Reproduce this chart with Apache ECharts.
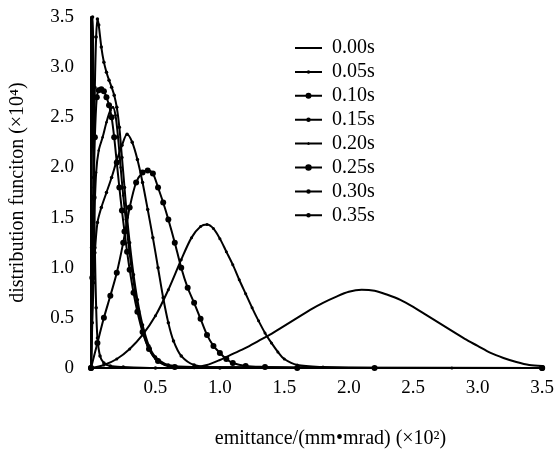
<!DOCTYPE html>
<html>
<head>
<meta charset="utf-8">
<script src="https://cdn.jsdelivr.net/npm/echarts@6/dist/echarts.min.js"></script>
<style>
html,body{margin:0;padding:0;background:#fff;}
#chart{width:557px;height:454px;}
</style>
</head>
<body>
<div id="chart"></div>
<script>
// ---- data (emittance ×10^2 mm·mrad, distribution ×10^4) ----
var seriesNames = ['0.00s','0.05s','0.10s','0.15s','0.20s','0.25s','0.30s','0.35s'];
var xTicks = ['0.5','1.0','1.5','2.0','2.5','3.0','3.5'];
var yTicks = ['0','0.5','1.0','1.5','2.0','2.5','3.0','3.5'];

var t000_x = [0, 0.6, 0.8, 0.9, 1.0, 1.1, 1.2, 1.3, 1.4, 1.5, 1.6, 1.7, 1.8, 1.9, 2.0, 2.1, 2.2, 2.3, 2.4, 2.5, 2.6, 2.7, 2.8, 2.9, 3.0, 3.1, 3.2, 3.3, 3.4, 3.5];
var t000_y = [0, 0, 0.01, 0.03, 0.08, 0.14, 0.2, 0.27, 0.34, 0.42, 0.5, 0.58, 0.65, 0.71, 0.76, 0.78, 0.77, 0.73, 0.68, 0.61, 0.53, 0.45, 0.37, 0.29, 0.22, 0.15, 0.1, 0.06, 0.03, 0.02];

var t005_x = [0, 0.1, 0.2, 0.3, 0.4, 0.5, 0.6, 0.7, 0.78, 0.85, 0.9, 0.95, 1.0, 1.05, 1.1, 1.15, 1.2, 1.25, 1.3, 1.35, 1.4, 1.45, 1.5, 1.6, 1.8, 2.2, 2.8, 3.5];
var t005_y = [0, 0.03, 0.09, 0.19, 0.33, 0.52, 0.78, 1.08, 1.3, 1.41, 1.43, 1.39, 1.29, 1.16, 1.03, 0.88, 0.74, 0.6, 0.47, 0.35, 0.25, 0.16, 0.09, 0.03, 0.01, 0, 0, 0];

var t010_x = [0, 0.05, 0.1, 0.15, 0.2, 0.25, 0.3, 0.35, 0.4, 0.44, 0.48, 0.52, 0.56, 0.6, 0.65, 0.7, 0.75, 0.8, 0.85, 0.9, 0.95, 1.0, 1.05, 1.1, 1.2, 1.35, 1.6, 2.2, 3.5];
var t010_y = [0, 0.25, 0.5, 0.72, 0.95, 1.25, 1.6, 1.85, 1.95, 1.97, 1.94, 1.8, 1.65, 1.48, 1.25, 1.0, 0.8, 0.65, 0.49, 0.33, 0.22, 0.15, 0.09, 0.05, 0.02, 0.01, 0, 0, 0];

var t015_x = [0, 0.01, 0.02, 0.03, 0.05, 0.08, 0.12, 0.16, 0.2, 0.24, 0.28, 0.32, 0.36, 0.4, 0.44, 0.48, 0.52, 0.56, 0.6, 0.64, 0.7, 0.8, 1.0, 3.5];
var t015_y = [0, 0.45, 0.85, 1.15, 1.45, 1.6, 1.75, 1.9, 2.07, 2.22, 2.33, 2.25, 2.08, 1.85, 1.58, 1.3, 1.0, 0.7, 0.45, 0.27, 0.12, 0.03, 0, 0];

var t020_x = [0, 0.01, 0.02, 0.04, 0.06, 0.09, 0.12, 0.15, 0.17, 0.19, 0.21, 0.23, 0.25, 0.27, 0.29, 0.31, 0.34, 0.37, 0.4, 0.44, 0.5, 0.6, 0.8, 3.5];
var t020_y = [0, 0.7, 1.3, 1.95, 2.17, 2.3, 2.45, 2.57, 2.6, 2.52, 2.3, 2.0, 1.72, 1.48, 1.25, 1.04, 0.78, 0.56, 0.38, 0.22, 0.09, 0.02, 0, 0];

var t025_x = [0, 0.01, 0.02, 0.03, 0.045, 0.06, 0.08, 0.1, 0.12, 0.14, 0.16, 0.18, 0.2, 0.22, 0.24, 0.26, 0.28, 0.3, 0.33, 0.36, 0.4, 0.45, 0.52, 0.65, 3.5];
var t025_y = [0, 0.9, 1.7, 2.3, 2.7, 2.77, 2.78, 2.76, 2.7, 2.62, 2.5, 2.3, 2.05, 1.8, 1.57, 1.36, 1.16, 0.98, 0.75, 0.56, 0.36, 0.19, 0.07, 0.01, 0];

var t030_x = [0, 0.01, 0.02, 0.03, 0.04, 0.05, 0.06, 0.08, 0.1, 0.12, 0.14, 0.16, 0.18, 0.2, 0.22, 0.24, 0.26, 0.28, 0.3, 0.33, 0.36, 0.4, 0.45, 0.5, 0.6, 0.8, 3.5];
var t030_y = [0, 0.9, 1.9, 2.8, 3.3, 3.48, 3.42, 3.2, 3.05, 2.95, 2.87, 2.8, 2.72, 2.6, 2.4, 2.1, 1.8, 1.5, 1.25, 0.93, 0.68, 0.43, 0.22, 0.11, 0.03, 0.01, 0];

var t035_x = [0, 0.004, 0.008, 0.012, 0.016, 0.02, 0.025, 0.03, 0.04, 0.05, 0.07, 0.1, 0.15, 0.25, 0.5, 3.5];
var t035_y = [0, 1.2, 2.6, 3.5, 3.3, 2.6, 1.8, 1.2, 0.6, 0.3, 0.12, 0.05, 0.02, 0.01, 0, 0];

var allX = [t000_x, t005_x, t010_x, t015_x, t020_x, t025_x, t030_x, t035_x];
var allY = [t000_y, t005_y, t010_y, t015_y, t020_y, t025_y, t030_y, t035_y];
var symSizes = [0, 3, 6, 3.5, 2.5, 6, 3.5, 3.5];
var legendDot = [0, 3.5, 6, 4.5, 3, 6.5, 4.5, 4.5];

function zip(xs, ys) { return xs.map(function (x, i) { return [x, ys[i]]; }); }

function iconPath(d) {
  if (!d) return 'path://M0,0H27V2H0Z';
  var r = d / 2, c = 13.5;
  return 'path://M0,' + (r - 1) + 'H27V' + (r + 1) + 'H0Z' +
    'M' + (c - r) + ',' + r + 'A' + r + ',' + r + ',0,1,1,' + (c + r) + ',' + r +
    'A' + r + ',' + r + ',0,1,1,' + (c - r) + ',' + r + 'Z';
}

var FONT = '"Liberation Serif", "Times New Roman", serif';

var series = seriesNames.map(function (n, i) {
  return {
    name: n,
    type: 'line',
    data: zip(allX[i], allY[i]),
    smooth: 0.3,
    symbol: symSizes[i] ? 'circle' : 'none',
    symbolSize: symSizes[i],
    showAllSymbol: true,
    lineStyle: { color: '#000', width: 2 },
    itemStyle: { color: '#000' },
    z: 2
  };
});

var chart = echarts.init(document.getElementById('chart'));
chart.setOption({
  animation: false,
  backgroundColor: '#fff',
  grid: { left: 90, right: 9, top: 17, bottom: 85 },
  legend: {
    orient: 'vertical',
    left: 290,
    top: 33,
    itemWidth: 27,
    itemHeight: 16,
    itemGap: 3.9,
    data: seriesNames.map(function (n, i) { return { name: n, icon: iconPath(legendDot[i]) }; }),
    textStyle: { fontFamily: FONT, fontSize: 20, lineHeight: 20, color: '#000', padding: [0, 0, 0, 5] }
  },
  xAxis: {
    type: 'value',
    min: 0, max: 3.5, interval: 0.5,
    name: 'emittance/(mm\u2022mrad) (\u00d710\u00b2)',
    nameLocation: 'middle',
    nameGap: 61,
    nameTextStyle: { fontFamily: FONT, fontSize: 20, color: '#000', padding: [0, 0, 0, 28] },
    axisLine: { lineStyle: { color: '#000', width: 2 } },
    axisTick: { show: false },
    splitLine: { show: false },
    axisLabel: {
      fontFamily: FONT, fontSize: 19, color: '#000', margin: 11,
      formatter: function (v) { var k = Math.round(v / 0.5) - 1; return k >= 0 ? xTicks[k] : ''; }
    }
  },
  yAxis: {
    type: 'value',
    min: 0, max: 3.5, interval: 0.5,
    name: 'distribution funciton (\u00d710\u2074)',
    nameLocation: 'middle',
    nameGap: 63,
    nameTextStyle: { fontFamily: FONT, fontSize: 20, color: '#000' },
    axisLine: { show: true, lineStyle: { color: '#000', width: 2 } },
    axisTick: { show: false },
    splitLine: { show: false },
    axisLabel: {
      fontFamily: FONT, fontSize: 19, color: '#000', margin: 17,
      formatter: function (v) { return yTicks[Math.round(v / 0.5)]; }
    }
  },
  series: series
});
</script>
</body>
</html>
